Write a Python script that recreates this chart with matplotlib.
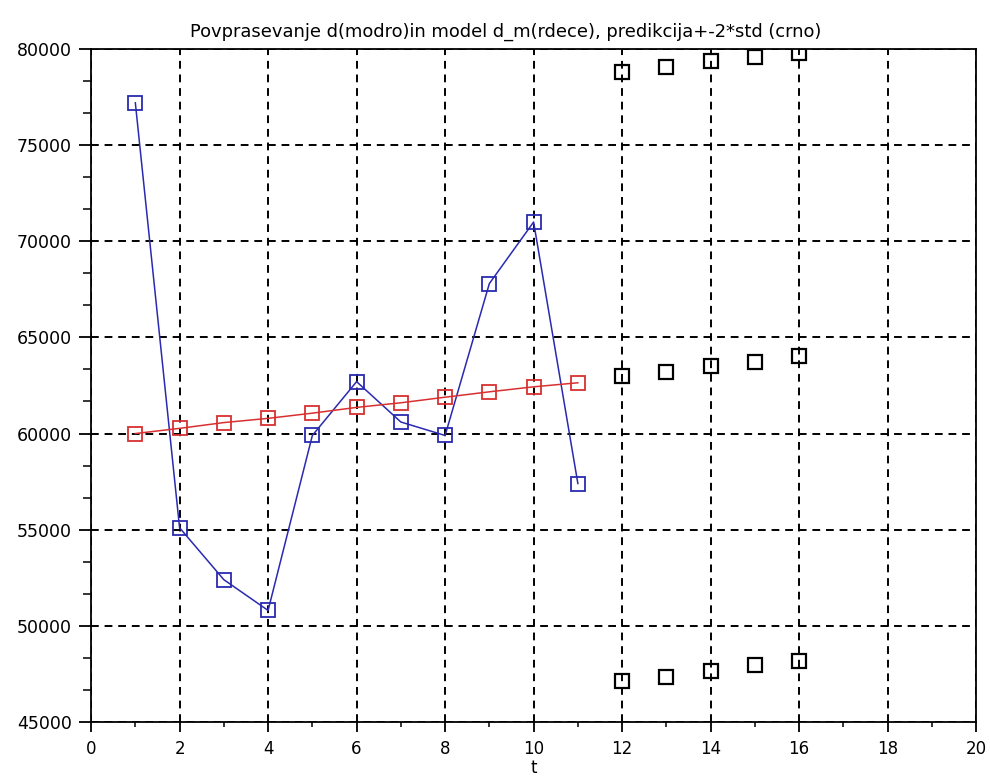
import matplotlib
matplotlib.use("Agg")
import matplotlib.pyplot as plt
from matplotlib.ticker import MultipleLocator

plt.rcParams['font.family'] = ['DejaVu Sans']

# demand (blue) and model (red) over observed periods
t_obs = [1, 2, 3, 4, 5, 6, 7, 8, 9, 10, 11]
demand = [77200, 55100, 52400, 50800, 59900, 62700, 60600, 59900, 67800, 71000, 57400]
model = [60000, 60270, 60570, 60790, 61060, 61360, 61600, 61890, 62170, 62430, 62640]

# prediction with +-2*std band (black)
t_pred = [12, 13, 14, 15, 16]
pred_upper = [78800, 79050, 79380, 79570, 79810]
pred_mid = [62990, 63210, 63500, 63730, 64020]
pred_lower = [47150, 47360, 47640, 47970, 48190]

fig = plt.figure(figsize=(9.9, 7.8), dpi=100)
ax = fig.add_axes([0.092, 0.0744, 0.894, 0.8628])

blue = '#2a2ab0'
red = '#d83030'

ax.plot(t_obs, demand, color=blue, lw=1.1, marker='s', ms=10.5,
        mfc='none', mec=blue, mew=1.3, zorder=3)
ax.plot(t_obs, model, color=red, lw=1.1, marker='s', ms=10.5,
        mfc='none', mec=red, mew=1.3, zorder=3)
for series in (pred_upper, pred_mid, pred_lower):
    ax.plot(t_pred, series, ls='none', marker='s', ms=10.5,
            mfc='none', mec='black', mew=1.6, zorder=3)

ax.set_xlim(0, 20)
ax.set_ylim(45000, 80000)
ax.xaxis.set_major_locator(MultipleLocator(2))
ax.xaxis.set_minor_locator(MultipleLocator(1))
ax.yaxis.set_major_locator(MultipleLocator(5000))
ax.yaxis.set_minor_locator(MultipleLocator(5000 / 3))

ax.grid(True, which='major', color='black', ls=(0, (4, 3)), lw=1.4)
ax.tick_params(axis='y', which='major', direction='out', length=9, width=1.3,
               labelsize=12.5, pad=5)
ax.tick_params(axis='y', which='minor', direction='out', length=6, width=1.1)
ax.tick_params(axis='x', which='major', direction='out', length=7, width=1.3,
               labelsize=12, pad=6)
ax.tick_params(axis='x', which='minor', direction='out', length=3.5, width=1.1)
for side in ax.spines.values():
    side.set_linewidth(1.3)

ax.set_title('Povprasevanje d(modro)in model d_m(rdece), predikcija+-2*std (crno)',
             fontsize=12.9, pad=9, x=0.468)
ax.set_xlabel('t', fontsize=12, labelpad=1)

fig.savefig('out.png', dpi=100)
